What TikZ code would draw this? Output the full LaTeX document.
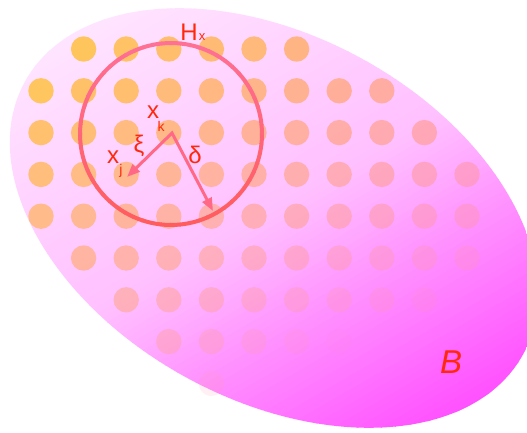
\documentclass[tikz,border=0pt]{standalone}
\usepackage{fontspec}
\setmainfont{Liberation Sans}
\usetikzlibrary{arrows.meta}
\definecolor{txt}{RGB}{255,40,10}
\definecolor{ringtop}{RGB}{255,92,92}
\definecolor{ringbot}{RGB}{255,112,150}
\definecolor{arr}{RGB}{255,105,135}
\definecolor{dotc}{RGB}{255,198,92}
\definecolor{dotp}{RGB}{255,140,195}
\begin{document}
\begin{tikzpicture}[x=1pt,y=-1pt,
  lbl/.style={text=txt, inner sep=0pt, font=\fontsize{24}{24}\selectfont},
  sub/.style={text=txt, inner sep=0pt, font=\fontsize{14}{14}\selectfont},
  ringstyle/.style={circle, draw=none, minimum size=182pt, inner sep=0pt},
  arrstyle/.style={draw=arr, line width=3pt, miter limit=10,
    {Triangle[length=13pt,width=10pt]}-{Triangle[length=13pt,width=10pt]}}]
\useasboundingbox (0,0) rectangle (527,432);
\clip (0,0) rectangle (527,432);
% region B: oblique colour ramp clipped to the ellipse
\begin{scope}
  \clip[shift={(274,218)}, rotate=-28.6] (0,0) ellipse [x radius=284, y radius=182];
  \foreach \i in {0,...,116} {
    \pgfmathsetmacro\p{\i*6}
    \pgfmathsetmacro\q{\p/692}
    \pgfmathtruncatemacro\g{\q<0.5 ? 242-100*\q : 192-290*(\q-0.5)}
    \definecolor{sc}{RGB}{255,\g,255}
    \fill[sc] ({-20+\p*0.5-606},{-20+\p*0.866+350}) -- ({-20+\p*0.5+606},{-20+\p*0.866-350})
      -- ({-20+(\p+6.6)*0.5+606},{-20+(\p+6.6)*0.866-350}) -- ({-20+(\p+6.6)*0.5-606},{-20+(\p+6.6)*0.866+350}) -- cycle;
  }
\end{scope}
% dots: row / first col / last col / opacity at first / opacity at last
\foreach \r/\cs/\ce/\oa/\ob in {1/2/7/1.0/0.95, 2/1/9/1.0/0.85, 3/1/10/0.95/0.75,
    4/1/11/0.9/0.62, 5/1/11/0.85/0.5, 6/2/11/0.75/0.3, 7/3/10/0.62/0.18,
    8/4/8/0.45/0.06, 9/5/5/0.15/0.15} {
  \foreach \c in {\cs,...,\ce} {
    \pgfmathsetmacro\px{41+(\c-1)*42.6}
    \pgfmathsetmacro\py{49+(\r-1)*41.8}
    \pgfmathsetmacro\op{\oa+(\ob-\oa)*(\c-\cs)/max(\ce-\cs,1)}
    \pgfmathtruncatemacro\mix{max(0,min(100,(0.8*\px+\py-110)/5.5))}
    \colorlet{dd}{dotp!\mix!dotc}
    \fill[dd, opacity=\op] (\px,\py) circle[radius=12.7];
  }
}
% neighbourhood H_x
\node[ringstyle] (H) at (171,134) {};
\foreach \a in {0,6,...,354} {
  \pgfmathtruncatemacro\rm{50+50*sin(\a+3)}
  \draw[ringtop!\rm!ringbot, line width=4pt] ([shift={(\a:91)}]H.center) arc[start angle=\a, end angle=\a+6.6, radius=91];
}
\coordinate (k) at (172,133);
\coordinate (j) at (127,177);
\coordinate (d) at (213,211);
\draw[arrstyle] (j) -- (k) -- (d);
% labels
\node[lbl] (Hl) at (189,32) {H};
\node[sub, font=\fontsize{13}{13}\selectfont] (Hs) at (202,37) {x};
\node[lbl] (xk) at (153,112) {x};
\node[sub] (kk) at (161,126) {k};
\node[lbl] (xi) at (139,146) {ξ};
\node[lbl] (xj) at (113,157) {x};
\node[sub] (jj) at (121,171) {j};
\node[lbl] (dl) at (195,155) {δ};
\node[text=txt, inner sep=0pt, font=\fontsize{33}{33}\selectfont\itshape] (B) at (451,362) {B};
\end{tikzpicture}
\end{document}
